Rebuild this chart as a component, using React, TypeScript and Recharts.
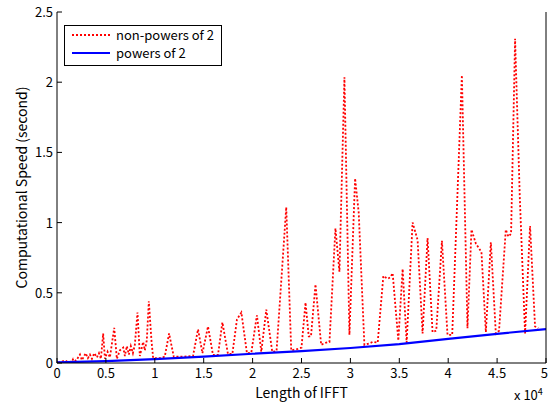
import React from "react";
import { LineChart, Line, XAxis, YAxis, Label } from "recharts";

// FFT length (N) and time for non-power-of-2 lengths
const nonPow2N = [
  130, 510, 816, 1120, 1530, 1660, 1940, 2350, 2550, 2930, 3160, 3370, 3570, 3810,
  4080, 4290, 4490, 4720, 4900, 5170, 5410, 5850, 6120, 6430, 6770, 6940, 7140,
  7350, 7550, 7760, 7960, 8230, 8470, 8810, 8980, 9180, 9390, 9660, 9830, 10510,
  11020, 11460, 11940, 12860, 13910, 14420, 14870, 15440, 15950, 16460, 16910,
  17480, 17930, 18400, 18850, 19420, 19870, 20440, 20890, 21400, 22010, 22450,
  23440, 23950, 24620, 25000, 25410, 25740, 25970, 26430, 27010, 27520, 27860,
  28470, 28880, 29390, 29900, 30480, 30850, 31430, 31940, 32280, 32790, 33370,
  33810, 34080, 34320, 34900, 35340, 35750, 36360, 36870, 37380, 37890, 38400,
  38780, 39360, 39930, 40410, 41400, 41970, 42380, 42830, 43400, 43850, 44360,
  44870, 45200, 45890, 46150, 46430, 46840, 47320, 47860, 48370, 48880, 49210,
];
const nonPow2Sec = [
  0.002, 0.01, 0.02, 0.005, 0.01, 0.03, 0.015, 0.06, 0.02, 0.07, 0.035, 0.06, 0.03, 0.07,
  0.04, 0.07, 0.03, 0.21, 0.03, 0.08, 0.04, 0.25, 0.03, 0.09, 0.11, 0.05, 0.12,
  0.06, 0.12, 0.07, 0.13, 0.36, 0.05, 0.15, 0.09, 0.16, 0.44, 0.16, 0.035, 0.035,
  0.045, 0.21, 0.045, 0.045, 0.05, 0.24, 0.07, 0.26, 0.057, 0.057, 0.29,
  0.064, 0.064, 0.31, 0.36, 0.07, 0.074, 0.34, 0.08, 0.38, 0.08, 0.085,
  1.11, 0.09, 0.1, 0.11, 0.43, 0.19, 0.19, 0.56, 0.13, 0.145, 0.15,
  0.96, 0.65, 2.035, 0.2, 1.315, 1.07, 0.13, 0.14, 0.15, 0.145, 0.62,
  0.6, 0.61, 0.64, 0.16, 0.67, 0.145, 1.0, 0.876, 0.21, 0.89, 0.22,
  0.23, 0.87, 0.2, 0.2, 2.05, 0.247, 0.95, 0.85, 0.79, 0.22, 0.86,
  0.21, 0.23, 0.95, 0.9, 0.92, 2.31, 1.18, 0.21, 0.976, 0.26, 0.247,
];

// powers of 2
const pow2N = [0, 5000, 10000, 15000, 20000, 25000, 30000, 35000, 40000, 45000, 50000];
const pow2Sec = [0.004, 0.013, 0.027, 0.045, 0.066, 0.085, 0.107, 0.135, 0.172, 0.208, 0.242];

const xTicks = [0, 5000, 10000, 15000, 20000, 25000, 30000, 35000, 40000, 45000, 50000];
const yTicks = [0, 0.5, 1, 1.5, 2, 2.5];

const nonPow2Data = nonPow2N.map((n, i) => ({ n, sec: nonPow2Sec[i] }));
const pow2Data = pow2N.map((n, i) => ({ n, sec: pow2Sec[i] }));

const FONT = "'Noto Sans CJK JP', 'Noto Sans', sans-serif";
const TICK_LEN = 5;

const BottomTick = (props: any) => {
  const { x, y, payload } = props;
  const last = payload.value === 50000;
  return (
    <g>
      <line x1={x} y1={y} x2={x} y2={y - TICK_LEN} stroke="#000" />
      <text
        x={last ? x + 2 : x}
        y={y + 15}
        textAnchor={last ? "end" : "middle"}
        fontSize={13}
        fill="#000"
        fontFamily={FONT}
      >
        {payload.value / 10000}
      </text>
    </g>
  );
};

const TopTick = (props: any) => {
  const { x, y } = props;
  return <line x1={x} y1={y} x2={x} y2={y + TICK_LEN} stroke="#000" />;
};

const LeftTick = (props: any) => {
  const { x, y, payload } = props;
  return (
    <g>
      <line x1={x} y1={y} x2={x + TICK_LEN} y2={y} stroke="#000" />
      <text x={x - 4} y={y + 5} textAnchor="end" fontSize={13} fill="#000" fontFamily={FONT}>
        {payload.value}
      </text>
    </g>
  );
};

const RightTick = (props: any) => {
  const { x, y } = props;
  return <line x1={x} y1={y} x2={x - TICK_LEN} y2={y} stroke="#000" />;
};

export default function App() {
  return (
    <div style={{ position: "absolute", left: 0, top: 0, width: 548, height: 405, background: "#fff", fontFamily: FONT }}>
      <LineChart width={548} height={405} margin={{ top: 12, right: 1, bottom: 0, left: 0 }}>
        <XAxis
          dataKey="n"
          type="number"
          domain={[0, 50000]}
          ticks={xTicks}
          interval={0}
          allowDataOverflow
          height={42}
          tickSize={0}
          tickMargin={0}
          tickLine={false}
          tick={<BottomTick />}
          axisLine={{ stroke: "#000" }}
        >
          <Label
            value="Length of IFFT"
            position="insideBottom"
            offset={7}
            style={{ fontSize: 14, fill: "#000", fontFamily: FONT }}
          />
        </XAxis>
        <XAxis
          xAxisId="top"
          orientation="top"
          dataKey="n"
          type="number"
          domain={[0, 50000]}
          ticks={xTicks}
          interval={0}
          height={0}
          tickSize={0}
          tickMargin={0}
          tickLine={false}
          tick={<TopTick />}
          axisLine={{ stroke: "#000" }}
        />
        <YAxis
          type="number"
          domain={[0, 2.5]}
          ticks={yTicks}
          interval={0}
          allowDataOverflow
          width={57}
          tickSize={0}
          tickMargin={0}
          tickLine={false}
          tick={<LeftTick />}
          axisLine={{ stroke: "#000" }}
        >
          <Label
            value="Computational Speed (second)"
            angle={-90}
            position="insideLeft"
            offset={22}
            style={{ textAnchor: "middle", fontSize: 14, fill: "#000", fontFamily: FONT }}
          />
        </YAxis>
        <YAxis
          yAxisId="right"
          orientation="right"
          type="number"
          domain={[0, 2.5]}
          ticks={yTicks}
          interval={0}
          width={1}
          tickSize={0}
          tickMargin={0}
          tickLine={false}
          tick={<RightTick />}
          axisLine={{ stroke: "#000" }}
        />
        <Line
          data={nonPow2Data}
          dataKey="sec"
          type="linear"
          stroke="#ff0000"
          strokeWidth={1.8}
          strokeDasharray="2 2"
          dot={false}
          isAnimationActive={false}
        />
        <Line
          data={pow2Data}
          dataKey="sec"
          type="linear"
          stroke="#0000ff"
          strokeWidth={2.2}
          dot={false}
          isAnimationActive={false}
        />
      </LineChart>

      {/* x10^4 multiplier */}
      <div style={{ position: "absolute", left: 514, top: 388, fontSize: 13, color: "#000", lineHeight: "14px", whiteSpace: "nowrap" }}>
        x 10<span style={{ fontSize: 9, verticalAlign: "super", lineHeight: 0 }}>4</span>
      </div>

      {/* legend */}
      <div
        style={{
          position: "absolute",
          left: 64,
          top: 25,
          width: 156,
          height: 39,
          border: "1px solid #000",
          background: "#fff",
          fontSize: 13,
          lineHeight: "14px",
          color: "#000",
        }}
      >
        <div style={{ position: "absolute", left: 7, top: 1, display: "flex", alignItems: "center", height: 16 }}>
          <svg width={38} height={4}>
            <line x1={0} y1={2} x2={38} y2={2} stroke="#ff0000" strokeWidth={1.8} strokeDasharray="2 2" />
          </svg>
          <span style={{ marginLeft: 6, whiteSpace: "nowrap", lineHeight: "14px" }}>non-powers of 2</span>
        </div>
        <div style={{ position: "absolute", left: 7, top: 19, display: "flex", alignItems: "center", height: 16 }}>
          <svg width={38} height={4}>
            <line x1={0} y1={2} x2={38} y2={2} stroke="#0000ff" strokeWidth={2.2} />
          </svg>
          <span style={{ marginLeft: 6, whiteSpace: "nowrap", lineHeight: "14px" }}>powers of 2</span>
        </div>
      </div>
    </div>
  );
}
